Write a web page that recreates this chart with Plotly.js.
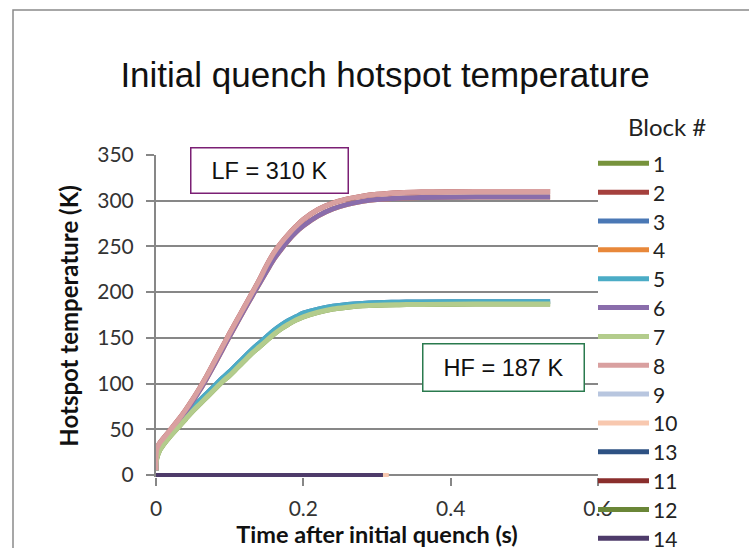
<!DOCTYPE html>
<html>
<head>
<meta charset="utf-8">
<script src="https://cdn.plot.ly/plotly-3.0.1.min.js"></script>
<style>
  html, body { margin: 0; padding: 0; background: #fff; }
  #chart { width: 749px; height: 548px; }
</style>
</head>
<body>
<div id="chart"></div>
<script>
// Time after the initial quench (s), shared by the heating curves
const timeS = [0, 0.001, 0.005, 0.01, 0.02, 0.03, 0.04, 0.05, 0.06, 0.07,
               0.08, 0.09, 0.10, 0.11, 0.12, 0.13, 0.14, 0.15, 0.16, 0.17,
               0.18, 0.19, 0.20, 0.22, 0.24, 0.26, 0.28, 0.30, 0.33, 0.36,
               0.40, 0.45, 0.50, 0.535];

// Hotspot temperature (K) for the low-field blocks
const tempBlock8 = [5, 28, 35, 40, 50, 60, 71, 83, 96, 110,
                    125, 140, 155, 169.5, 184, 198.5, 213, 229, 243, 254,
                    263.5, 272, 279.5, 290.5, 297.5, 302, 305, 307, 308.7, 309.5,
                    309.9, 310, 310, 310];
const tempBlock6 = [5, 27, 34, 39, 48.5, 58.5, 69, 81, 93.5, 107.5,
                    122, 137, 152, 166.5, 181, 195, 209, 222.5, 236, 247,
                    257, 265.5, 272.5, 283.5, 291, 296, 299.3, 301.3, 302.8, 303.5,
                    303.9, 304, 304, 304];

// Hotspot temperature (K) for the high-field blocks
const tempBlock5 = [5, 20, 30, 36, 46, 55, 65, 74, 82, 90,
                    98, 106, 113, 121, 129, 137, 144, 151, 158, 164,
                    169, 173, 177, 181.5, 184.5, 186.5, 187.7, 188.4, 189, 189.3,
                    189.5, 189.6, 189.6, 189.6];
const tempBlock7 = [5, 18, 27, 33, 43, 52, 61, 70, 78, 86,
                    94, 102, 109, 117, 125, 133, 140, 147, 154, 160,
                    165, 169.5, 173, 178, 181.5, 183.5, 185, 185.8, 186.3, 186.6,
                    186.8, 187, 187, 187];

// Blocks that never heat up in this run
const timeFlat = [0, 0.308];
const timeFlatLong = [0, 0.316];
const tempFlat = [0, 0];

// Legend order and colours as listed under "Block #"
const blockNames = ['1', '2', '3', '4', '5', '6', '7', '8', '9', '10', '13', '11', '12', '14'];
const blockColors = ['#77933C', '#A5403D', '#4A78B5', '#E8883A', '#4BACC6', '#8A6DAB',
                     '#B3CC8C', '#D9A0A0', '#B8C6DF', '#F8C8AF', '#2E5283', '#8A2E2C',
                     '#6A8637', '#4E3B6A'];
const blockX = [timeS, timeS, timeS, timeS, timeS, timeS, timeS, timeS,
                timeFlat, timeFlatLong, timeFlat, timeFlat, timeFlat, timeFlat];
const blockY = [tempBlock7, tempBlock8, tempBlock5, tempBlock6, tempBlock5, tempBlock6,
                tempBlock7, tempBlock8, tempFlat, tempFlat, tempFlat, tempFlat, tempFlat, tempFlat];

// Text labels
const chartTitle = 'Initial quench hotspot temperature';
const xTitle = 'Time after initial quench (s)';
const yTitle = 'Hotspot temperature (K)';
const legendTitle = 'Block #';
const lfLabel = 'LF = 310 K';
const hfLabel = 'HF = 187 K';

// Page geometry (pixels)
const W = 749, H = 548;
const M = { l: 156, r: 151, t: 155, b: 71 };
const plotW = W - M.l - M.r, plotH = H - M.t - M.b;
const px2paperX = px => (px - M.l) / plotW;
const px2paperY = py => (H - M.b - py) / plotH;

const gridGray = '#878787';
const uiFont = 'Lato, "Open Sans", sans-serif';
const arialFont = '"Liberation Sans", Arial, sans-serif';

const traces = blockNames.map((name, i) => ({
  type: 'scatter',
  mode: 'lines',
  name: name,
  x: blockX[i],
  y: blockY[i],
  line: { color: blockColors[i], width: i >= 8 ? 4 : 5, shape: 'spline', smoothing: 1 },
  showlegend: false,
  hoverinfo: 'x+y+name'
}));

// Hand-laid legend column at the right of the plot
const shapes = [];
const annotations = [];
const legendTop = 163.3, legendStep = 28.85;
blockNames.forEach((name, i) => {
  const yy = px2paperY(legendTop + i * legendStep);
  shapes.push({
    type: 'line', xref: 'paper', yref: 'paper', layer: 'above',
    x0: px2paperX(598), x1: px2paperX(649), y0: yy, y1: yy,
    line: { color: blockColors[i], width: 5 }
  });
  annotations.push({
    xref: 'paper', yref: 'paper', x: px2paperX(651), y: yy,
    xanchor: 'left', yanchor: 'middle', showarrow: false,
    text: name, font: { family: uiFont, size: 21, color: '#222' }
  });
});
annotations.push({
  xref: 'paper', yref: 'paper', x: px2paperX(667), y: px2paperY(126.5),
  xanchor: 'center', yanchor: 'middle', showarrow: false,
  text: legendTitle, font: { family: uiFont, size: 24, color: '#222' }
});

// Boxed callouts for the two field regions
annotations.push({
  xref: 'paper', yref: 'paper', x: px2paperX(269), y: px2paperY(170),
  xanchor: 'center', yanchor: 'middle', showarrow: false,
  text: lfLabel, font: { family: arialFont, size: 23.5, color: '#111' },
  bgcolor: '#fff', bordercolor: '#7B1F74', borderwidth: 1.5,
  width: 150, height: 38, borderpad: 3
});
annotations.push({
  xref: 'paper', yref: 'paper', x: px2paperX(503), y: px2paperY(367),
  xanchor: 'center', yanchor: 'middle', showarrow: false,
  text: hfLabel, font: { family: arialFont, size: 23.5, color: '#111' },
  bgcolor: '#fff', bordercolor: '#2A7A4E', borderwidth: 1.5,
  width: 154, height: 40, borderpad: 3
});

// Outer chart frame
shapes.push({
  type: 'rect', xref: 'paper', yref: 'paper', layer: 'below',
  x0: px2paperX(13), x1: px2paperX(800), y0: px2paperY(600), y1: px2paperY(10),
  line: { color: '#8a8a8a', width: 1.5 }, fillcolor: 'rgba(0,0,0,0)'
});

const yMin = -(H - M.b - 475) * 350 / (475 - M.t);

const layout = {
  width: W, height: H,
  margin: M,
  paper_bgcolor: '#fff', plot_bgcolor: '#fff',
  showlegend: false,
  title: {
    text: chartTitle,
    font: { family: arialFont, size: 35, color: '#111' },
    xref: 'paper', x: px2paperX(385), xanchor: 'center',
    yref: 'container', y: 1 - 75 / H, yanchor: 'middle'
  },
  xaxis: {
    range: [0, 0.6], tick0: 0, dtick: 0.2,
    showgrid: false, zeroline: false, showline: false,
    ticks: 'outside', ticklen: 8, tickwidth: 2, tickcolor: gridGray,
    ticklabelstandoff: 5,
    tickfont: { family: uiFont, size: 21, color: '#333' },
    title: { text: xTitle, standoff: 6, font: { family: uiFont, size: 23.5, color: '#111', weight: 'bold' } },
    fixedrange: true
  },
  yaxis: {
    range: [yMin, 350], tick0: 0, dtick: 50,
    showgrid: true, gridcolor: gridGray, gridwidth: 2,
    zeroline: true, zerolinecolor: gridGray, zerolinewidth: 2,
    showline: true, linecolor: gridGray, linewidth: 2,
    ticks: 'outside', ticklen: 8, tickwidth: 2, tickcolor: gridGray,
    ticklabelstandoff: 8,
    tickfont: { family: uiFont, size: 21, color: '#333' },
    title: { text: yTitle, standoff: 12, font: { family: uiFont, size: 24, color: '#111', weight: 'bold' } },
    fixedrange: true
  },
  shapes: shapes,
  annotations: annotations
};

Plotly.newPlot('chart', traces, layout, { displayModeBar: false, responsive: false });
</script>
</body>
</html>
